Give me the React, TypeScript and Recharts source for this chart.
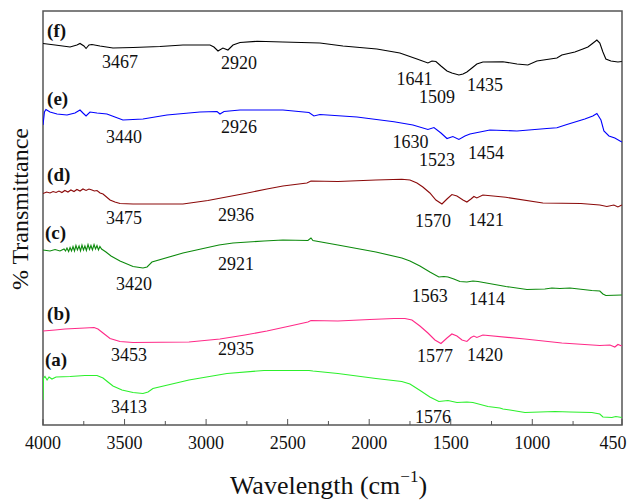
import { LineChart, Line, XAxis, YAxis, ReferenceDot, ReferenceArea } from 'recharts';

const FONT = 'Liberation Serif';

// x axis ticks (cm-1)
const majorTicks = [4000, 3500, 3000, 2500, 2000, 1500, 1000, 450];
const minorTicks = [3750, 3250, 2750, 2250, 1750, 1250, 750];

// spectra, offset transmittance in arbitrary units
const waveF = [4000, 3926, 3834, 3792, 3773, 3749, 3736, 3718, 3700, 3651, 3571, 3448, 3283, 3142, 2976, 2952, 2927, 2897, 2866, 2835, 2792, 2688, 2529, 2302, 2161, 1953, 1812, 1707, 1640, 1615, 1591, 1560, 1523, 1493, 1450, 1425, 1401, 1370, 1340, 1303, 1180, 1094, 1027, 972, 911, 849, 819, 739, 690, 659, 635, 604, 586, 567, 549, 518, 475, 451];
const transF = [381.5, 380, 378, 380, 381.5, 379, 376.5, 380, 380.5, 379, 377, 377.5, 378.5, 380, 380, 378, 374, 377, 375, 380, 382.5, 383.7, 383, 382, 379, 376, 372, 366, 362, 364, 363.5, 359, 354, 352, 350, 351, 353, 357, 361, 363, 363.3, 361, 360, 364, 365.5, 367, 370, 373, 376, 378, 381, 385, 382, 373, 366, 364, 363, 363.5];

const waveE = [4000, 3991, 3982, 3957, 3914, 3853, 3804, 3773, 3755, 3736, 3712, 3669, 3608, 3559, 3510, 3387, 3240, 3038, 2933, 2915, 2890, 2792, 2529, 2369, 2339, 2302, 2075, 1848, 1732, 1640, 1603, 1560, 1523, 1487, 1450, 1413, 1382, 1260, 1094, 911, 849, 788, 678, 629, 604, 579, 561, 530, 494, 451];
const transE = [300, 313, 315.5, 313, 311, 310, 312, 315, 312, 309, 313, 312, 311, 308, 305, 306, 310, 313, 313.5, 311, 313.5, 315, 315, 312.5, 309, 310.5, 308, 303.3, 300, 295.5, 297.5, 292, 286.5, 288.5, 285.5, 289, 291, 295, 294, 296.5, 297.3, 300.5, 306, 309, 311.5, 305, 294, 289, 287, 283];

const waveD = [4000, 3978, 3957, 3938, 3920, 3902, 3884, 3866, 3847, 3829, 3810, 3792, 3773, 3755, 3736, 3718, 3700, 3685, 3669, 3650, 3632, 3589, 3559, 3528, 3448, 3142, 2989, 2762, 2627, 2529, 2382, 2357, 2192, 1959, 1800, 1750, 1707, 1671, 1628, 1591, 1554, 1523, 1493, 1462, 1425, 1401, 1376, 1358, 1340, 1303, 1162, 935, 702, 586, 543, 500, 475, 451];
const transD = [231.5, 233, 232, 233.5, 232.5, 234, 232.5, 234.5, 233, 235, 233.5, 235.5, 234, 236, 234.5, 236, 235, 234, 234.5, 232, 231, 225, 223, 221.5, 221, 221, 224.5, 231.5, 236, 239, 242, 244, 243.5, 245, 245.7, 245, 242, 238, 232, 225, 221, 226, 230.5, 229, 225, 223, 226, 228.5, 227, 230, 227.7, 222, 221.5, 220, 218.5, 220, 218, 220];

const waveC = [4000, 3957, 3926, 3896, 3871, 3862, 3853, 3843, 3834, 3825, 3816, 3807, 3798, 3789, 3779, 3770, 3761, 3752, 3743, 3734, 3724, 3715, 3706, 3697, 3687, 3678, 3669, 3660, 3651, 3641, 3632, 3614, 3583, 3528, 3448, 3387, 3362, 3332, 3142, 2921, 2835, 2645, 2529, 2376, 2357, 2345, 2192, 1959, 1800, 1750, 1689, 1628, 1573, 1542, 1517, 1481, 1444, 1401, 1364, 1333, 1162, 1033, 923, 880, 831, 769, 635, 586, 567, 549, 451];
const transC = [175, 174, 175.5, 174, 176, 174, 177, 173.5, 177.5, 174, 178.5, 174, 179.5, 175, 179, 174, 180, 175, 179, 174.5, 180.5, 175.5, 179.5, 175, 180.5, 176, 179.5, 175, 178.5, 176, 175, 173, 169, 164, 158.5, 157, 158, 163, 172, 180, 182, 184, 185, 184.5, 187, 184.5, 180, 173, 167, 164, 159, 153, 148, 148.5, 148, 146, 143.5, 143, 144, 143.5, 138.5, 135.5, 136, 137, 136.5, 137, 134.5, 134, 131, 129.5, 130];

const waveB = [4000, 3926, 3865, 3804, 3743, 3687, 3663, 3632, 3589, 3528, 3448, 3105, 2915, 2762, 2627, 2486, 2376, 2357, 2192, 1996, 1848, 1781, 1738, 1689, 1640, 1597, 1560, 1523, 1493, 1462, 1431, 1401, 1376, 1358, 1340, 1303, 1045, 819, 586, 524, 494, 475, 451];
const transB = [94, 95, 96, 96.5, 97, 97.5, 96, 92, 86.5, 83.5, 82.5, 83, 86, 90, 94, 99, 103, 104.5, 104, 105.5, 106.5, 106.5, 105, 99, 92, 85, 81.5, 87, 91, 89, 85, 83.5, 87.5, 89, 87.5, 90, 86, 82, 79.5, 80, 78, 80.5, 79];

const waveA = [4000, 3997, 3988, 3975, 3963, 3945, 3920, 3834, 3743, 3669, 3632, 3602, 3571, 3516, 3448, 3387, 3356, 3326, 3105, 2872, 2645, 2369, 2345, 2192, 1959, 1800, 1750, 1683, 1628, 1573, 1517, 1462, 1401, 1364, 1272, 1199, 1180, 1137, 1045, 861, 769, 635, 586, 567, 512, 488, 451];
const transA = [25, 47, 48.5, 45, 48, 46, 48, 48.5, 49.5, 49.5, 47, 43, 39, 35, 32.5, 31.5, 33, 36.5, 45, 51.5, 54.5, 54.5, 54, 51.5, 46.5, 43.5, 41, 34, 28, 23.5, 24.5, 22.5, 23, 22.5, 18.5, 17, 16, 15, 12.5, 13.5, 13, 12.5, 11, 8, 7.5, 8.5, 7.5];

// band annotations
const peakText = ['3467', '2920', '1641', '1509', '1435', '3440', '2926', '1630', '1523', '1454', '3475', '2936', '1570', '1421', '3420', '2921', '1563', '1414', '3453', '2935', '1577', '1420', '3413', '1576'];
const peakWave = [3528, 2798, 1723, 1585, 1290, 3503, 2798, 1747, 1585, 1284, 3503, 2817, 1609, 1284, 3442, 2817, 1628, 1278, 3473, 2817, 1597, 1290, 3473, 1609];
const peakLevel = [363, 362, 346, 328, 340, 288, 298, 283, 265, 272, 207, 210, 204, 205, 141, 161, 129, 126, 70, 76, 69, 70, 18, 8];

const tagText = ['(f)', '(e)', '(d)', '(c)', '(b)', '(a)'];
const tagWave = [3975, 3975, 3975, 3988, 3975, 3988];
const tagLevel = [395, 326.5, 250.5, 192.5, 111.5, 65.5];

const zip = (w: number[], t: number[]) => w.map((x, i) => ({ x, y: t[i] }));

const series = [
  { id: 'f', color: '#000000', data: zip(waveF, transF) },
  { id: 'e', color: '#0000ff', data: zip(waveE, transE) },
  { id: 'd', color: '#8b0a0a', data: zip(waveD, transD) },
  { id: 'c', color: '#0c8a0c', data: zip(waveC, transC) },
  { id: 'b', color: '#ff2a88', data: zip(waveB, transB) },
  { id: 'a', color: '#2cf02c', data: zip(waveA, transA) },
];

const allTicks = [...majorTicks, ...minorTicks].sort((p, q) => q - p);

const AxisTick = (props: any) => {
  const { x, y, payload } = props;
  const major = majorTicks.includes(payload.value);
  // last label is pulled in so it stays inside the frame
  const shift = payload.value === 450 ? -9 : 0;
  return (
    <g>
      <line x1={x} y1={y} x2={x} y2={y - (major ? 6 : 4)} stroke="#555" strokeWidth={1} />
      {major && (
        <text x={x + shift} y={y + 24} textAnchor="middle" fontFamily={FONT} fontSize={18} fill="#111">
          {payload.value}
        </text>
      )}
    </g>
  );
};

// both axis titles are drawn from the x axis label, positioned off its box
const AxisTitles = (props: any) => {
  const { x, y, width } = props.viewBox;
  const yx = x - 15;
  const yy = 209;
  return (
    <g>
      <text x={x + width / 2 - 4} y={y + 69} textAnchor="middle" fontFamily={FONT} fontSize={26} fill="#111">
        Wavelength (cm<tspan dy={-12} fontSize={17}>−1</tspan><tspan dy={12}>)</tspan>
      </text>
      <text x={yx} y={yy} transform={`rotate(-90, ${yx}, ${yy})`} textAnchor="middle" fontFamily={FONT} fontSize={24} fill="#111">
        % Transmittance
      </text>
    </g>
  );
};

export default function App() {
  return (
    <div style={{ position: 'absolute', left: 0, top: 0, width: 628, height: 501, background: '#fff', fontFamily: FONT }}>
      <LineChart width={628} height={501} margin={{ top: 11, right: 6, bottom: 16, left: 43 }}>
        <XAxis
          dataKey="x"
          type="number"
          domain={[450, 4000]}
          reversed
          allowDataOverflow
          ticks={allTicks}
          interval={0}
          tickSize={0}
          tickMargin={0}
          axisLine={false}
          tickLine={false}
          tick={AxisTick}
          height={60}
          label={{ content: AxisTitles }}
        />
        <YAxis
          type="number"
          domain={[0, 414]}
          allowDataOverflow
          width={0}
          tick={false}
          tickLine={false}
          axisLine={false}
        />
        <ReferenceArea x1={4000} x2={450} y1={0} y2={414} fill="none" stroke="#555" strokeWidth={1.5} ifOverflow="visible" />
        {series.map((s) => (
          <Line
            key={s.id}
            data={s.data}
            dataKey="y"
            type="linear"
            stroke={s.color}
            strokeWidth={1.1}
            dot={false}
            activeDot={false}
            isAnimationActive={false}
          />
        ))}
        {peakText.map((t, i) => (
          <ReferenceDot
            key={'p' + i}
            x={peakWave[i]}
            y={peakLevel[i]}
            r={0}
            fill="none"
            stroke="none"
            label={{ value: t, position: 'center', fontFamily: FONT, fontSize: 18, fill: '#111' }}
          />
        ))}
        {tagText.map((t, i) => (
          <ReferenceDot
            key={'t' + i}
            x={tagWave[i]}
            y={tagLevel[i]}
            r={0}
            fill="none"
            stroke="none"
            label={{ value: t, position: 'right', offset: 0, fontFamily: FONT, fontSize: 19, fontWeight: 'bold', fill: '#111' }}
          />
        ))}
      </LineChart>
    </div>
  );
}
